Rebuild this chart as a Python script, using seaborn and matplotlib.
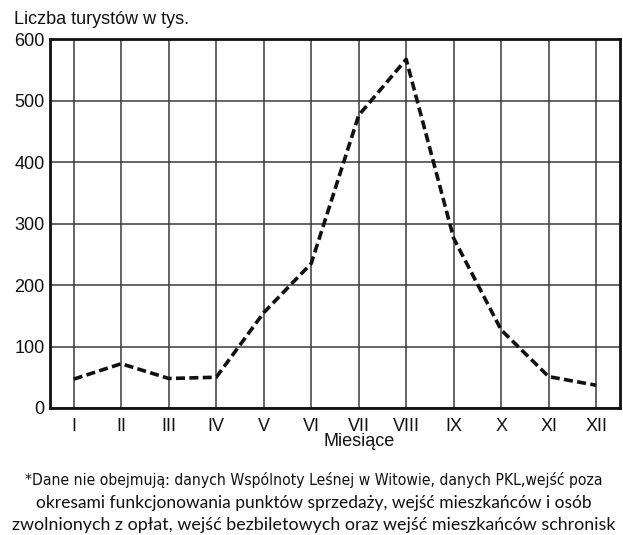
import matplotlib
matplotlib.use('Agg')
import matplotlib.pyplot as plt
import seaborn as sns
import pandas as pd

months = ['I', 'II', 'III', 'IV', 'V', 'VI', 'VII', 'VIII', 'IX', 'X', 'XI', 'XII']
tourists = [47, 72, 48, 50, 155, 235, 476, 567, 276, 127, 51, 37]
y_ticks = [0, 100, 200, 300, 400, 500, 600]

sns.set_style('white')
plt.rcParams['font.family'] = ['Liberation Sans', 'DejaVu Sans']

df = pd.DataFrame({'pos': range(len(months)), 'value': tourists})

fig = plt.figure(figsize=(6.23, 5.35), dpi=100)
ax = fig.add_axes([0.0803, 0.2374, 0.9147, 0.6896])

sns.lineplot(data=df, x='pos', y='value', ax=ax, color='#111111',
             linestyle=(0, (2.5, 1.2)), linewidth=2.6, zorder=3)

ax.set_xlim(-0.5, len(months) - 0.5)
ax.set_ylim(0, 600)
ax.set_xticks(range(len(months)))
ax.set_xticklabels(months)
ax.set_yticks(y_ticks)
ax.tick_params(axis='both', length=0, labelsize=13, colors='#111111')
ax.tick_params(axis='x', pad=7)
ax.tick_params(axis='y', pad=4)
ax.grid(True, color='#3a3a3a', linewidth=1.1)
for s in ax.spines.values():
    s.set_color('#111111')
    s.set_linewidth(2)
ax.set_xlabel('')
ax.set_ylabel('')

fig.text(14 / 623, 1 - 19 / 535, 'Liczba turystów w tys.', fontsize=13,
         ha='left', va='center', color='#111111')
fig.text(359 / 623, 1 - 442 / 535, 'Miesiące', fontsize=13,
         ha='center', va='center', color='#111111')

# footnote, each line squeezed to the width it has in the original
notes = ['*Dane nie obejmują: danych Wspólnoty Leśnej w Witowie, danych PKL,wejść poza',
         'okresami funkcjonowania punktów sprzedaży, wejść mieszkańców i osób',
         'zwolnionych z opłat, wejść bezbiletowych oraz wejść mieszkańców schronisk']
note_y = [480, 503, 525]
note_w = [575, 553, 601]
note_fam = [['DejaVu Sans'], ['Lato', 'DejaVu Sans'], ['Lato', 'DejaVu Sans']]
note_stretch = ['condensed', 'normal', 'normal']
renderer = fig.canvas.get_renderer()
for txt, yy, ww, fam, st in zip(notes, note_y, note_w, note_fam, note_stretch):
    t = fig.text(314 / 623, 1 - yy / 535, txt, fontsize=12, ha='center', va='center',
                 family=fam, fontstretch=st, color='#111111')
    w = t.get_window_extent(renderer).width
    t.set_fontsize(min(14, 12 * ww / w))

fig.savefig('out.png', dpi=100)
